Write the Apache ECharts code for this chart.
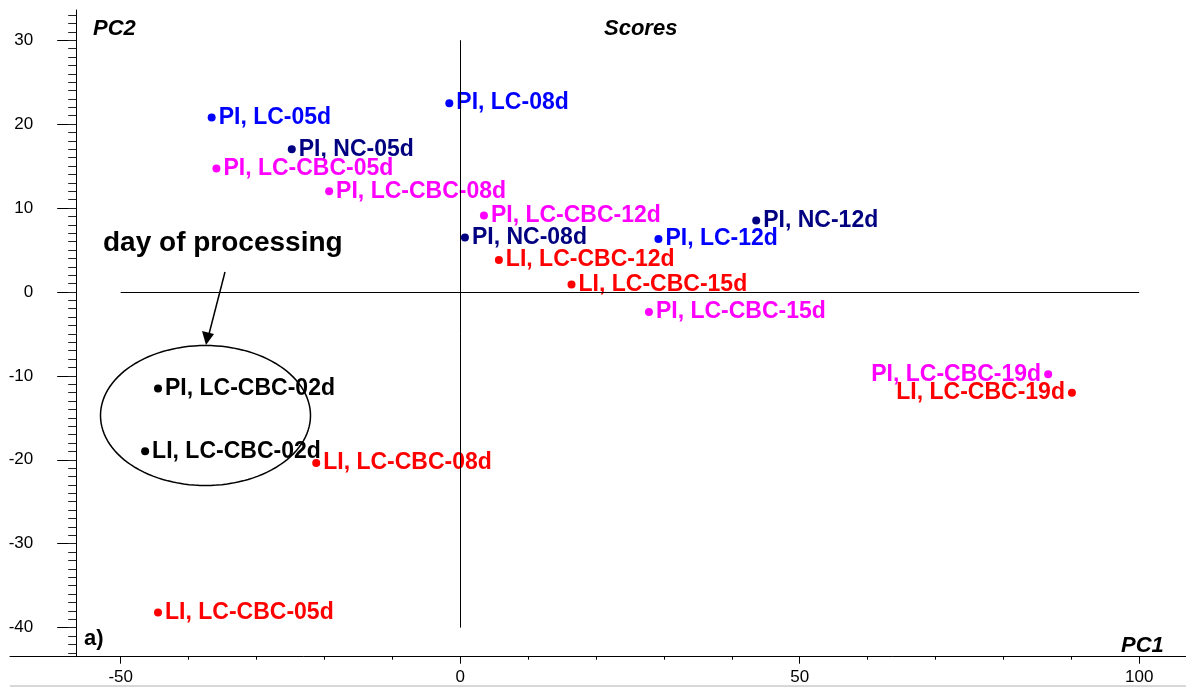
<!DOCTYPE html>
<html>
<head>
<meta charset="utf-8">
<script src="https://cdn.jsdelivr.net/npm/echarts@6/dist/echarts.min.js"></script>
<style>
html,body{margin:0;padding:0;background:#fff;}
#chart{width:1186px;height:687px;}
</style>
</head>
<body>
<div id="chart"></div>
<script>
// ---- data (PC1, PC2 scores) ----
const piLcNames = ['PI, LC-05d', 'PI, LC-08d', 'PI, LC-12d'];
const piLcX = [-36.6, -1.6, 29.2];
const piLcY = [20.8, 22.5, 6.3];

const piNcNames = ['PI, NC-05d', 'PI, NC-08d', 'PI, NC-12d'];
const piNcX = [-24.8, 0.7, 43.6];
const piNcY = [17.0, 6.5, 8.5];

const piCbcNames = ['PI, LC-CBC-05d', 'PI, LC-CBC-08d', 'PI, LC-CBC-12d', 'PI, LC-CBC-15d', 'PI, LC-CBC-19d'];
const piCbcX = [-35.9, -19.3, 3.5, 27.8, 86.6];
const piCbcY = [14.7, 12.0, 9.1, -2.4, -9.8];

const liCbcNames = ['LI, LC-CBC-05d', 'LI, LC-CBC-08d', 'LI, LC-CBC-12d', 'LI, LC-CBC-15d', 'LI, LC-CBC-19d'];
const liCbcX = [-44.5, -21.2, 5.7, 16.4, 90.1];
const liCbcY = [-38.2, -20.4, 3.8, 0.9, -12.0];

const day02Names = ['PI, LC-CBC-02d', 'LI, LC-CBC-02d'];
const day02X = [-44.5, -46.4];
const day02Y = [-11.5, -19.0];

const labelLeftNames = ['PI, LC-CBC-19d', 'LI, LC-CBC-19d'];

const xMajorTicks = [-50, 0, 50, 100];
const xMinorTicks = [-40, -30, -20, -10, 10, 20, 30, 40, 60, 70, 80, 90];
const yMajorTicks = [-40, -30, -20, -10, 0, 10, 20, 30];
const yMinorTicks = [];
for (let v = -43; v <= 33; v++) yMinorTicks.push(v);

const xMin = -66.3, xMax = 106.9, yMin = -43.47, yMax = 33.6;
const yAxisCross = -56.55;

const FONT = '"Liberation Sans", Arial, sans-serif';

function build(names, xs, ys) {
  return names.map((n, i) => {
    const item = { name: n, value: [xs[i], ys[i]] };
    if (labelLeftNames.indexOf(n) >= 0) item.label = { position: 'left' };
    return item;
  });
}

function scatter(name, color, names, xs, ys) {
  return {
    name: name, type: 'scatter', symbol: 'circle', symbolSize: 8,
    itemStyle: { color: color, opacity: 1 },
    label: {
      show: true, position: 'right', distance: 3, formatter: '{b}',
      color: color, fontFamily: FONT, fontWeight: 'bold', fontSize: 23
    },
    emphasis: { disabled: true },
    data: build(names, xs, ys)
  };
}

const chart = echarts.init(document.getElementById('chart'), null, { renderer: 'canvas' });

const gridLeft = 10, gridRight = 0, gridTop = 10, gridBottom = 30.3;
const yOffset = -((yAxisCross - xMin) / (xMax - xMin)) * (1186 - gridLeft - gridRight);

// ellipse annotation outline (pixels)
const ellipsePts = [];
for (let k = 0; k <= 120; k++) {
  const t = k / 120 * Math.PI * 2;
  ellipsePts.push([205.5 + 105 * Math.cos(t), 415.5 + 70 * Math.sin(t)]);
}

const option = {
  animation: false,
  backgroundColor: '#fff',
  grid: { left: gridLeft, right: gridRight, top: gridTop, bottom: gridBottom, containLabel: false },
  xAxis: [
    {
      type: 'value', min: xMin, max: xMax, position: 'bottom',
      axisLine: { show: true, onZero: false, lineStyle: { color: '#000', width: 1 } },
      axisTick: { show: true, customValues: xMajorTicks, length: 7, lineStyle: { color: '#000' } },
      axisLabel: { show: true, customValues: xMajorTicks, margin: 12, color: '#000', fontFamily: FONT, fontSize: 17 },
      splitLine: { show: false }
    },
    {
      type: 'value', min: xMin, max: xMax, position: 'bottom',
      axisLine: { show: false, onZero: false },
      axisTick: { show: true, customValues: xMinorTicks, length: 3, lineStyle: { color: '#000' } },
      axisLabel: { show: false },
      splitLine: { show: false }
    }
  ],
  yAxis: [
    {
      type: 'value', min: yMin, max: yMax, position: 'left', offset: yOffset,
      axisLine: { show: true, onZero: false, lineStyle: { color: '#000', width: 1 } },
      axisTick: { show: true, customValues: yMajorTicks, length: 19, lineStyle: { color: '#000' } },
      axisLabel: { show: true, customValues: yMajorTicks, margin: 43, color: '#000', fontFamily: FONT, fontSize: 17 },
      splitLine: { show: false }
    },
    {
      type: 'value', min: yMin, max: yMax, position: 'left', offset: yOffset,
      axisLine: { show: false, onZero: false },
      axisTick: { show: true, customValues: yMinorTicks, length: 8, lineStyle: { color: '#222' } },
      axisLabel: { show: false },
      splitLine: { show: false }
    }
  ],
  series: [
    Object.assign(scatter('PI LC', '#0000ff', piLcNames, piLcX, piLcY), {
      markLine: {
        silent: true, symbol: 'none', label: { show: false },
        lineStyle: { color: '#000', width: 1, type: 'solid', opacity: 1 },
        emphasis: { disabled: true },
        data: [
          [{ coord: [-50, 0] }, { coord: [100, 0] }],
          [{ coord: [0, -40] }, { coord: [0, 30] }]
        ]
      }
    }),
    scatter('PI NC', '#000080', piNcNames, piNcX, piNcY),
    scatter('PI LC-CBC', '#ff00ff', piCbcNames, piCbcX, piCbcY),
    scatter('LI LC-CBC', '#ff0000', liCbcNames, liCbcX, liCbcY),
    scatter('day 02', '#000000', day02Names, day02X, day02Y)
  ],
  graphic: [
    { type: 'text', left: 93, top: 18, style: { text: 'PC2', font: 'italic bold 22px ' + FONT, fill: '#000' } },
    { type: 'text', left: 604, top: 18, style: { text: 'Scores', font: 'italic bold 22px ' + FONT, fill: '#000' } },
    { type: 'text', left: 1121, top: 635, style: { text: 'PC1', font: 'italic bold 22px ' + FONT, fill: '#000' } },
    { type: 'text', left: 84, top: 628, style: { text: 'a)', font: 'bold 22px ' + FONT, fill: '#000' } },
    { type: 'text', left: 103, top: 229, style: { text: 'day of processing', font: 'bold 28px ' + FONT, fill: '#000' } },
    { type: 'polyline', shape: { points: ellipsePts }, style: { stroke: '#000', lineWidth: 1.5, fill: null } },
    { type: 'line', shape: { x1: 225, y1: 272, x2: 209, y2: 334 }, style: { stroke: '#000', lineWidth: 1.5 } },
    { type: 'polygon', shape: { points: [[206, 345], [202, 331], [214, 334]] }, style: { fill: '#000' } },
    { type: 'line', shape: { x1: 10, y1: 686, x2: 1186, y2: 686 }, style: { stroke: '#b0b0b0', lineWidth: 1 } }
  ]
};

chart.setOption(option);
</script>
</body>
</html>
